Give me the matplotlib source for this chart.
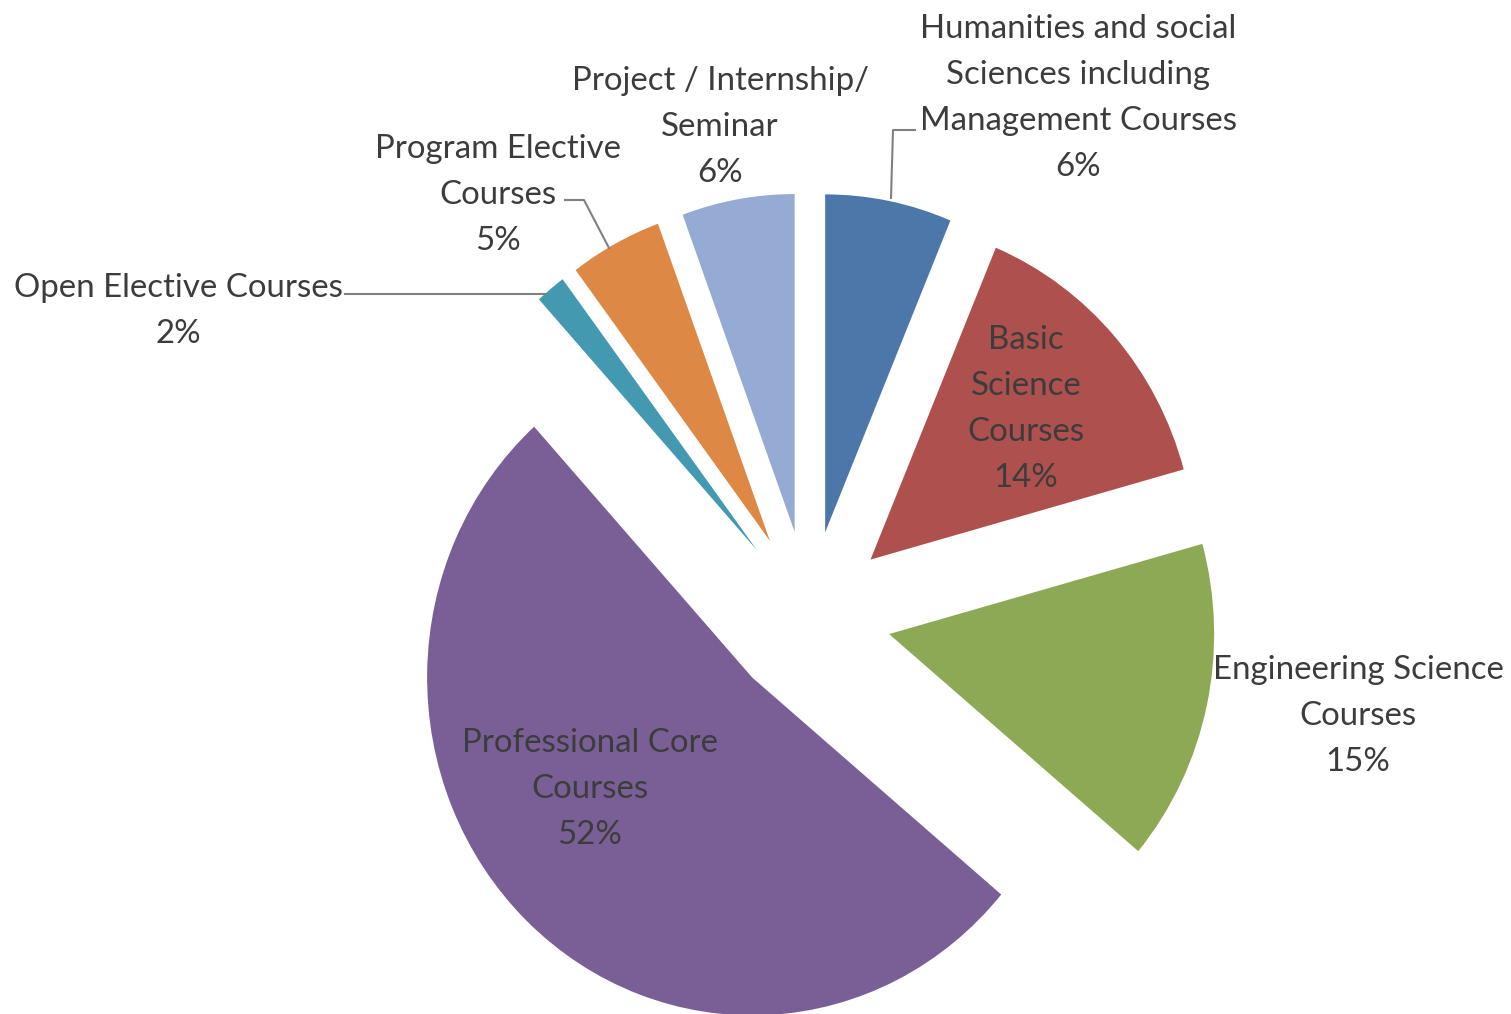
import matplotlib.pyplot as plt
import numpy as np

# ---------------- data ----------------
categories = ['Humanities and social\nSciences including\nManagement Courses',
              'Basic\nScience\nCourses',
              'Engineering Science\nCourses',
              'Professional Core\nCourses',
              'Open Elective Courses',
              'Program Elective\nCourses',
              'Project / Internship/\nSeminar']
shares = [6.3, 14.4, 15.4, 52.2, 1.5, 4.6, 5.6]
colors = ['#4E77A9', '#AE504D', '#8EA955', '#7A5F96', '#4399AF', '#DD8845', '#95ABD3']

# label placement (image px: x, y of text centre)
label_pos = [(1078, 98), (1026, 409), (1358, 716), (590, 789), (178, 311), (498, 195), (720, 127)]
W, H = 1511, 1014
S = 1.04  # the original picture is slightly stretched vertically


def py(y_img):
    # image pixel row -> data y
    return (H - y_img) / S


fig = plt.figure(figsize=(W / 100, H / 100), dpi=100)
ax = fig.add_axes([0, 0, 1, 1])

# explode is in data units here (axes are in pixels)
wedges, _ = ax.pie(shares, colors=colors, startangle=90, counterclock=False,
                   explode=[82] * len(shares), radius=325, center=(809, py(616)),
                   wedgeprops=dict(linewidth=0), frame=True)
ax.set_xlim(0, W)
ax.set_ylim(0, H / S)
ax.set_aspect('auto')
ax.axis('off')

font = 'Lato'
for name, val, (x, y) in zip(categories, shares, label_pos):
    ax.text(x, py(y), f'{name}\n{int(val + 0.5):d}%', ha='center', va='center',
            fontsize=23.8, family=font, color='#3C3C3C', linespacing=1.66)

# leader lines
lc = '#808080'
ax.plot([915, 893, 891], [py(130), py(130), py(198)], color=lc, lw=1.5)
ax.plot([565, 584, 609], [py(200), py(200), py(248)], color=lc, lw=1.5)
ax.plot([345, 545], [py(294), py(294)], color=lc, lw=1.5)

fig.savefig('out.png', dpi=100)
